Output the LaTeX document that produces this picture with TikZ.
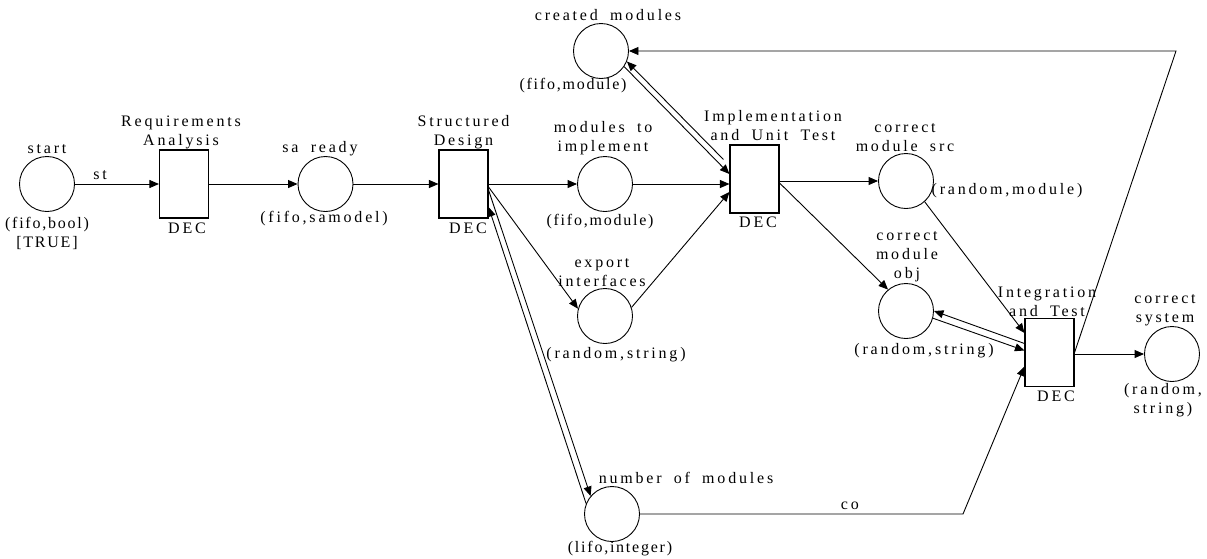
\documentclass[tikz,border=0pt]{standalone}
\usepackage{fontspec}
\setmainfont{Liberation Serif}
\newfontfamily\spacedfont[LetterSpace=17.5,WordSpace=1.8]{Liberation Serif}
\newfontfamily\spacednfont[LetterSpace=11]{Liberation Serif}
\usetikzlibrary{arrows.meta,calc}
\begin{document}
\begin{tikzpicture}[x=1pt,y=-1pt,
  place/.style={draw,circle,minimum size=55pt,inner sep=0pt,line width=0.9pt},
  trans/.style={draw,rectangle,minimum width=49pt,minimum height=68pt,inner sep=0pt,line width=1.1pt},
  lab/.style={inner sep=0pt,font=\spacedfont\fontsize{16}{19}\selectfont,align=center},
  labn/.style={inner sep=0pt,font=\spacednfont\fontsize{16}{19}\selectfont,align=center},
  arr/.style={-{Triangle[length=9.5pt,width=8pt]},line width=0.9pt}]
\useasboundingbox (0,0) rectangle (1207,558);

% places
\node[place] (start) at (47,184) {};
\node[place] (sa) at (325.5,184) {};
\node[place] (created) at (601,51) {};
\node[place] (mti) at (605,184) {};
\node[place] (export) at (605,316) {};
\node[place] (num) at (612,514) {};
\node[place] (src) at (906,181) {};
\node[place] (obj) at (906,311) {};
\node[place] (sys) at (1172,354) {};

% transitions
\node[trans] (RA) at (184,184) {};
\node[trans] (SD) at (463.5,184) {};
\node[trans] (IUT) at (754.5,179) {};
\node[trans] (IT) at (1049.5,352.5) {};

% bend points
\coordinate (cobend) at (963,514);
\coordinate (tr) at (1176,51);

% labels
\node[lab] (lstart) at (47,149) {start};
\node[labn] (lstartt) at (47,233) {(fifo,bool)\\{[TRUE]}};
\node[lab] (lRA) at (181,132) {Requirements\\Analysis};
\node[lab] (dRA) at (187,228) {DEC};
\node[lab] (lsa) at (320,149) {sa ready};
\node[lab] (lsat) at (324,219) {(fifo,samodel)};
\node[lab] (lSD) at (463.5,132) {Structured\\Design};
\node[lab] (dSD) at (468,228) {DEC};
\node[lab] (lmti) at (603,138.5) {modules to\\implement};
\node[labn] (lmtit) at (600,222) {(fifo,module)};
\node[lab] (lcreated) at (608,15) {created modules};
\node[labn] (lcreatedt) at (573,86) {(fifo,module)};
\node[lab] (lIUT) at (773,126) {Implementation\\and Unit Test};
\node[lab] (dIUT) at (758,222.5) {DEC};
\node[lab] (lsrc) at (905,138) {correct\\module src};
\node[lab] (lsrct) at (1007,191) {(random,module)};
\node[lab] (lobj) at (907,257) {correct\\module\\obj};
\node[lab] (lobjt) at (924,351) {(random,string)};
\node[lab] (lIT) at (1047,301.5) {Integration\\and Test};
\node[lab] (dIT) at (1056,396) {DEC};
\node[lab] (lsys) at (1165,310.5) {correct\\system};
\node[lab] (lsyst) at (1163,400) {(random,\\string)};
\node[lab] (lexport) at (602,272.5) {export\\interfaces};
\node[lab] (lexportt) at (616,355) {(random,string)};
\node[lab] (lnum) at (686,478) {number of modules};
\node[labn] (lnumt) at (620,549) {(lifo,integer)};

% arcs
\draw[arr] (start) -- node[lab,pos=0.3,above=4pt] (lst) {st} (RA);
\draw[arr] (RA) -- (sa);
\draw[arr] (sa) -- (SD);
\draw[arr] (SD) -- (mti);
\draw[arr] ([shift={(0,3)}]SD.east) -- (export.165);
\draw[arr] (num.158) -- ([shift={(0,23)}]SD.east);
\draw[arr] ([shift={(0,6)}]SD.east) -- (num.140);
\draw[arr] (mti) -- (mti -| IUT.west);
\draw[arr] (export.18) -- ([shift={(0,13)}]IUT.west);
\draw[arr] ([shift={(-6,15)}]IUT.north west) -- (created.-22);
\draw[arr] (created.-34) -- ([shift={(0,-5)}]IUT.west);
\draw[arr] (IUT.east |- src) -- (src);
\draw[arr] ([shift={(0,4)}]IUT.east) -- (obj.130);
\draw[arr] (src.-48) -- ([shift={(0,15)}]IT.north west);
\draw[arr] ([shift={(0,-9)}]IT.west) -- (obj.0);
\draw[arr] (obj.-15) -- ([shift={(0,-2)}]IT.west);
\draw[arr] (num) -- node[lab,pos=0.65,above=4pt] (lco) {co} (cobend) -- ([shift={(0,14)}]IT.west);
\draw[arr] (IT.east) -- (tr) -- (created);
\draw[arr] (IT.east |- sys) -- (sys);
\end{tikzpicture}
\end{document}
